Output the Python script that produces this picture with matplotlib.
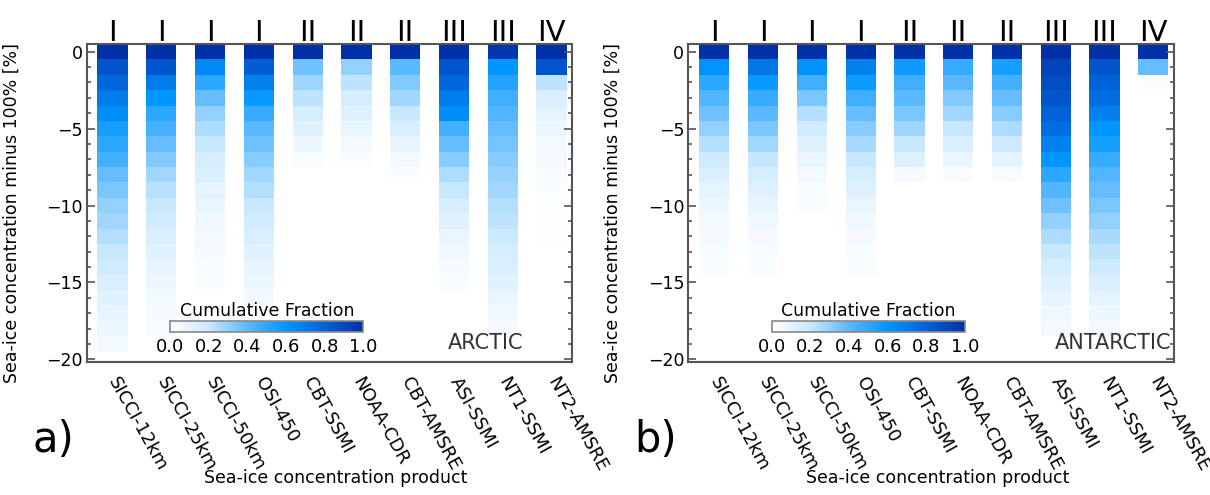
import numpy as np
import matplotlib
matplotlib.use("Agg")
import matplotlib.pyplot as plt
from matplotlib.colors import LinearSegmentedColormap, Normalize
from matplotlib.cm import ScalarMappable
from matplotlib.ticker import MultipleLocator
import matplotlib.transforms as mtransforms

# products and their algorithm groups
products = ["SICCI-12km", "SICCI-25km", "SICCI-50km", "OSI-450", "CBT-SSMI",
            "NOAA-CDR", "CBT-AMSRE", "ASI-SSMI", "NT1-SSMI", "NT2-AMSRE"]
groups = ["I", "I", "I", "I", "II", "II", "II", "III", "III", "IV"]

# cumulative fraction per 1% bin, starting at bin 0 and going down (0, -1, -2, ...)
arctic = [
    [1.0, 0.85, 0.78, 0.7, 0.63, 0.55, 0.5, 0.45, 0.38, 0.34, 0.3, 0.27, 0.24,
     0.2, 0.17, 0.14, 0.11, 0.09, 0.07, 0.05],
    [1.0, 0.85, 0.7, 0.6, 0.5, 0.44, 0.38, 0.33, 0.27, 0.23, 0.2, 0.17, 0.14,
     0.11, 0.09, 0.07, 0.05, 0.04, 0.03],
    [1.0, 0.65, 0.5, 0.38, 0.3, 0.25, 0.2, 0.16, 0.13, 0.1, 0.08, 0.06, 0.05,
     0.04, 0.03, 0.02],
    [1.0, 0.82, 0.68, 0.58, 0.48, 0.4, 0.36, 0.32, 0.27, 0.24, 0.2, 0.17, 0.14,
     0.11, 0.09, 0.07, 0.05],
    [1.0, 0.36, 0.28, 0.22, 0.16, 0.11, 0.07, 0.03],
    [1.0, 0.3, 0.22, 0.16, 0.12, 0.08, 0.05, 0.02],
    [1.0, 0.4, 0.33, 0.27, 0.2, 0.14, 0.09, 0.05, 0.02],
    [1.0, 0.85, 0.78, 0.7, 0.63, 0.45, 0.38, 0.32, 0.25, 0.2, 0.15, 0.11, 0.08,
     0.06, 0.04, 0.03],
    [0.97, 0.6, 0.52, 0.46, 0.42, 0.38, 0.35, 0.32, 0.29, 0.27, 0.24, 0.22,
     0.19, 0.16, 0.14, 0.11, 0.08, 0.06, 0.04],
    [1.0, 0.85, 0.22, 0.14, 0.1, 0.07, 0.05, 0.04, 0.03, 0.02, 0.015, 0.01, 0.01],
]
antarctic = [
    [1.0, 0.62, 0.5, 0.42, 0.36, 0.3, 0.24, 0.18, 0.14, 0.1, 0.07, 0.05, 0.04,
     0.03, 0.02],
    [1.0, 0.72, 0.58, 0.48, 0.4, 0.34, 0.27, 0.21, 0.16, 0.12, 0.09, 0.06,
     0.04, 0.03, 0.02],
    [1.0, 0.62, 0.46, 0.34, 0.24, 0.17, 0.12, 0.08, 0.05, 0.03, 0.02],
    [1.0, 0.68, 0.57, 0.46, 0.38, 0.32, 0.26, 0.2, 0.16, 0.12, 0.08, 0.06,
     0.04, 0.03, 0.02],
    [1.0, 0.57, 0.46, 0.4, 0.34, 0.28, 0.2, 0.12, 0.04],
    [1.0, 0.48, 0.4, 0.33, 0.27, 0.2, 0.14, 0.08, 0.03],
    [1.0, 0.55, 0.45, 0.38, 0.32, 0.25, 0.18, 0.1, 0.03],
    [1.0, 0.92, 0.88, 0.85, 0.8, 0.75, 0.68, 0.6, 0.5, 0.42, 0.36, 0.3, 0.25,
     0.2, 0.16, 0.12, 0.09, 0.06, 0.04],
    [1.0, 0.85, 0.8, 0.75, 0.68, 0.6, 0.55, 0.48, 0.42, 0.38, 0.34, 0.3, 0.26,
     0.22, 0.18, 0.14, 0.1, 0.07, 0.04],
    [1.0, 0.38, 0.02],
]
cb_ticks = [0.0, 0.2, 0.4, 0.6, 0.8, 1.0]

cmap = LinearSegmentedColormap.from_list(
    "cumfrac", [(0.0, "#ffffff"), (0.2, "#c8e8ff"), (0.4, "#5ab8ff"),
                (0.6, "#0096ff"), (0.8, "#0062d8"), (1.0, "#0030a8")])
norm = Normalize(0, 1)

fig = plt.figure(figsize=(12.1, 4.95), dpi=100)
edge = "#555555"


def panel(left, data, region, letter, region_x):
    ax = fig.add_axes([left, 0.268, 0.401, 0.643])
    x = np.arange(1, len(products) + 1)
    for i, col in enumerate(data):
        for k, v in enumerate(col):
            ax.bar(x[i], 1.0, bottom=-k - 0.5, width=0.62,
                   color=cmap(norm(v)), linewidth=0)
    ax.set_xlim(0.47, 10.42)
    ax.set_ylim(-20.2, 0.5)
    ax.yaxis.set_major_locator(MultipleLocator(5))
    ax.yaxis.set_minor_locator(MultipleLocator(1))
    ax.tick_params(axis="y", which="major", direction="in", length=6,
                   width=1.2, color=edge, labelsize=12.5, right=True, pad=3)
    ax.tick_params(axis="y", which="minor", direction="in", length=3,
                   width=1.2, color=edge, right=True)
    ax.set_xticks(x)
    ax.set_xticklabels(products, rotation=-61, ha="left", va="center",
                       rotation_mode="anchor", fontsize=13)
    ax.tick_params(axis="x", length=0, pad=12)
    for s in ax.spines.values():
        s.set_color(edge)
        s.set_linewidth(1.5)
    ax.set_ylabel("Sea-ice concentration minus 100% [%]", fontsize=12.5)
    ax.yaxis.set_label_coords(-0.137, 0.47)
    ax.set_xlabel("Sea-ice concentration product", fontsize=12.5)
    ax.xaxis.set_label_coords(0.514, -0.335)

    trans = mtransforms.blended_transform_factory(ax.transData, ax.transAxes)
    for xi, g in zip(x, groups):
        ax.text(xi, 1.035, g, transform=trans, ha="center", va="center",
                fontsize=21)

    ax.text(region_x, 0.061, region, transform=ax.transAxes, ha="right",
            va="center", fontsize=15, color="#333333")

    cax = ax.inset_axes([0.172, 0.094, 0.398, 0.035])
    cb = fig.colorbar(ScalarMappable(norm=norm, cmap=cmap), cax=cax,
                      orientation="horizontal")
    cb.set_ticks(cb_ticks)
    cb.set_ticklabels([f"{t:.1f}" for t in cb_ticks])
    cax.tick_params(length=0, labelsize=13, pad=4)
    cb.outline.set_edgecolor("#888888")
    cb.outline.set_linewidth(1.2)
    cax.set_title("Cumulative Fraction", fontsize=12.5, pad=4)

    fig.text(left - 0.045, 1 - 440 / 495, letter, fontsize=30, va="center")
    return ax


panel(0.0717, arctic, "ARCTIC", "a)", 0.90)
panel(0.569, antarctic, "ANTARCTIC", "b)", 0.996)

fig.savefig("out.png", dpi=100)
